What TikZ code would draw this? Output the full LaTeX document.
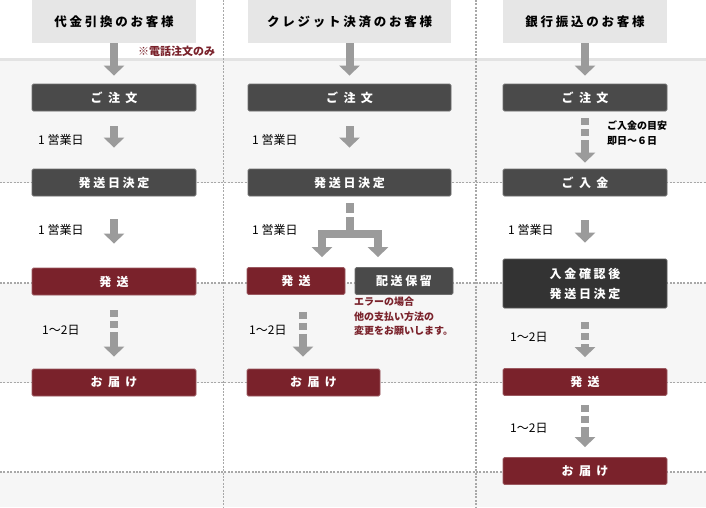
\documentclass[tikz,border=0pt]{standalone}
\usepackage{fontspec}
\setmainfont{Noto Sans CJK JP}
\newfontfamily\spacedjp[LetterSpace=22]{Noto Sans CJK JP}
\usetikzlibrary{calc,arrows.meta}

\definecolor{bandgray}{HTML}{F6F6F6}
\definecolor{bandline}{HTML}{E3E3E3}
\definecolor{dotgray}{HTML}{A8A8A8}
\definecolor{headgray}{HTML}{E6E6E6}
\definecolor{boxdark}{HTML}{4A4A4A}
\definecolor{boxdarker}{HTML}{333333}
\definecolor{boxred}{HTML}{7A222B}
\definecolor{arrowgray}{HTML}{9B9B9B}

\tikzset{
  header/.style={fill=headgray, minimum width=#1, minimum height=43pt, inner sep=0pt,
    anchor=north, font=\spacedjp\bfseries\fontsize{12.5}{14}\selectfont},
  header/.default=164pt,
  stepbox/.style={minimum width=#1, minimum height=27pt, inner sep=0pt, rounded corners=1.5pt,
    text=white, font=\spacedjp\bfseries\fontsize{12}{20}\selectfont, align=center},
  stepbox/.default=164pt,
  darkbox/.style={stepbox=#1, fill=boxdark, draw=boxdark!80!white, line width=0.8pt},
  darkbox/.default=164pt,
  redbox/.style={stepbox=#1, fill=boxred, draw=boxred!75!white, line width=0.8pt},
  redbox/.default=164pt,
  daylabel/.style={anchor=west, inner sep=0pt, font=\fontsize{12}{14}\selectfont},
  note/.style={anchor=north west, inner sep=0pt, align=left, font=\bfseries\fontsize{10}{14.5}\selectfont},
  flow/.style={draw=arrowgray, line width=8pt, -{Triangle[width=20pt,length=10pt]}},
  dashflow/.style={flow, dash pattern=on 7pt off 4pt on 7pt off 4pt on 300pt},
  dotline/.style={draw=dotgray, line width=1.3pt, dash pattern=on 2pt off 1.4pt}
}

\begin{document}
\begin{tikzpicture}[x=1pt,y=-1pt]
  \useasboundingbox (0,0) rectangle (706,507);
  \fill[white] (0,0) rectangle (706,507);

  \foreach \top/\bot in {61/182.5, 283/382.5, 472/507} {
    \fill[bandgray] (0,\top) rectangle (706,\bot);
  }
  \draw[bandline, line width=3pt] (0,59.5) -- (706,59.5);
  \foreach \y in {182.5, 283, 382.5, 472} {
    \draw[dotline] (0,\y) -- (706,\y);
  }
  \foreach \x in {223.5, 476} {
    \draw[dotline] (\x,0) -- (\x,507);
  }

  \node[header] (h1) at (114,0) {代金引換のお客様};
  \node[header=203pt] (h2) at (349.5,0) {クレジット決済のお客様};
  \node[header] (h3) at (585,0) {銀行振込のお客様};

  \node[darkbox] (o1) at (114,97.5) {ご 注 文};
  \node[darkbox] (f1) at (114,182.5) {発送日決定};
  \node[redbox] (s1) at (114,281.5) {発 送};
  \node[redbox] (d1) at (114,382.5) {お 届 け};

  \node[darkbox=203pt] (o2) at (349.5,97.5) {ご 注 文};
  \node[darkbox=203pt] (f2) at (349.5,182.5) {発送日決定};
  \node[redbox=98pt] (s2) at (296,281) {発 送};
  \node[darkbox=98pt] (p2) at (404,281) {配送保留};
  \node[redbox=133pt] (d2) at (313.5,382.5) {お 届 け};

  \node[darkbox] (o3) at (585,97.5) {ご 注 文};
  \node[darkbox] (m3) at (585,182.5) {ご 入 金};
  \node[stepbox, minimum height=49pt, fill=boxdarker, draw=boxdarker!80!white, line width=0.8pt]
    (c3) at (585,283.5) {入金確認後\\発送日決定};
  \node[redbox] (s3) at (585,382) {発 送};
  \node[redbox] (d3) at (585,471) {お 届 け};

  \draw[flow, shorten >=8pt] (h1) -- (o1);
  \draw[flow, shorten <=15pt, shorten >=21pt] (o1) -- (f1);
  \draw[flow, shorten <=23pt, shorten >=24pt] (f1) -- (s1);
  \draw[dashflow, shorten <=15pt, shorten >=12pt] (s1) -- (d1);

  \draw[flow, shorten >=8pt] (h2) -- (o2);
  \draw[flow, shorten <=15pt, shorten >=21pt] (o2) -- (f2);
  \coordinate (fork) at (349.5,234);
  \draw[draw=arrowgray, line width=8pt, dash pattern=on 10pt off 4pt on 100pt, shorten <=7pt]
    (f2) -- (fork);
  \draw[flow, shorten >=10pt] (fork) -| ([xshift=26pt]s2.north);
  \draw[flow, shorten >=10pt] (fork) -| ([xshift=-26pt]p2.north);
  \draw[dashflow, shorten <=17pt, shorten >=12pt]
    ([xshift=7pt]s2.south) -- ([xshift=7pt]s2.south |- d2.north);

  \draw[flow, shorten >=8pt] (h3) -- (o3);
  \draw[dashflow, shorten <=7pt, shorten >=6pt] (o3) -- (m3);
  \draw[flow, shorten <=24pt, shorten >=16pt] (m3) -- (c3);
  \draw[dashflow, shorten <=14pt, shorten >=11pt] (c3) -- (s3);
  \draw[dashflow, shorten <=9pt, shorten >=10pt] (s3) -- (d3);

  \node[daylabel] (l1a) at (38,140) {1 営業日};
  \node[daylabel] (l1b) at (38,230) {1 営業日};
  \node[daylabel] (l1c) at (42,330) {1～2日};
  \node[daylabel] (l2a) at (252,140) {1 営業日};
  \node[daylabel] (l2b) at (252,230) {1 営業日};
  \node[daylabel] (l2c) at (249,330) {1～2日};
  \node[daylabel] (l3a) at (508,230) {1 営業日};
  \node[daylabel] (l3b) at (510,337) {1～2日};
  \node[daylabel] (l3c) at (510,428) {1～2日};

  \node[anchor=west, inner sep=0pt, text=boxred, font=\bfseries\fontsize{11}{12}\selectfont]
    (codnote) at (138,51) {※電話注文のみ};
  \node[note] (paynote) at (607,121) {ご入金の目安\\即日～６日};
  \node[note, text=boxred] (errnote) at (354,297) {エラーの場合\\他の支払い方法の\\変更をお願いします。};
\end{tikzpicture}
\end{document}
